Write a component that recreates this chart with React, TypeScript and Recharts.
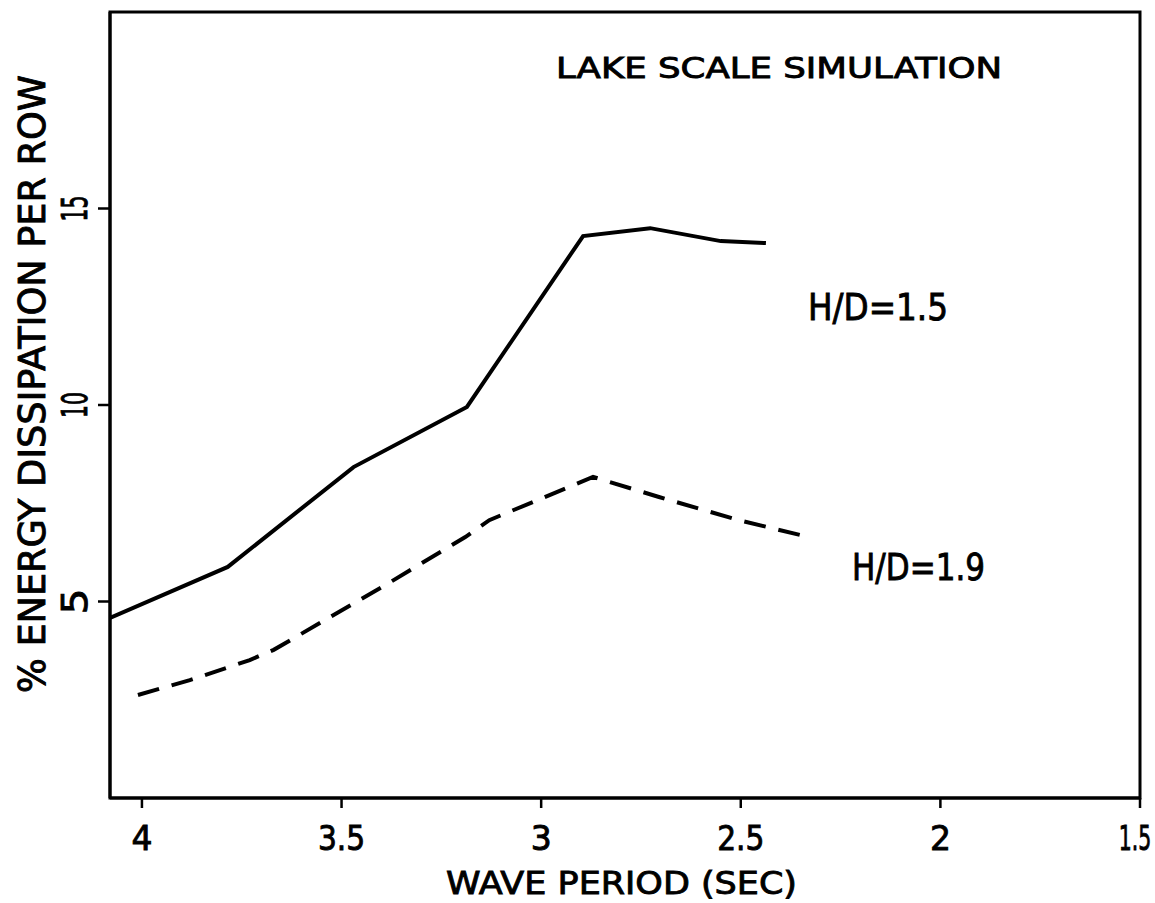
import React from 'react'
import { LineChart, Line, XAxis, YAxis, ReferenceArea, Customized } from 'recharts'

// H/D = 1.5 (solid)
const solidPeriod = [4.08, 3.785, 3.47, 3.186, 2.895, 2.727, 2.55, 2.437]
const solidEnergy = [4.58, 5.88, 8.42, 9.95, 14.3, 14.5, 14.17, 14.12]

// H/D = 1.9 (dashed)
const dashedPeriod = [4.01, 3.88, 3.73, 3.67, 3.39, 3.19, 3.13, 2.87, 2.705, 2.505, 2.35]
const dashedEnergy = [2.62, 3.0, 3.51, 3.77, 5.42, 6.64, 7.07, 8.17, 7.66, 7.07, 6.69]

const xTicks = [4, 3.5, 3, 2.5, 2, 1.5]
const yTicks = [5, 10, 15]

const solidData = solidPeriod.map((x, i) => ({ x, y: solidEnergy[i] }))
const dashedData = dashedPeriod.map((x, i) => ({ x, y: dashedEnergy[i] }))

const FONT = '"DejaVu Sans", sans-serif'
// thicken glyphs a little, the original lettering is heavy
const ink = { fill: '#000', stroke: '#000', strokeWidth: 0.9 }

function XTick(props: any) {
  const { x, y, payload } = props
  const label = String(payload.value)
  // squeeze the decimal labels sideways, the original digits are narrow
  const sx = label === '1.5' ? 0.62 : label.length > 1 ? 0.9 : 1
  const cx = label === '1.5' ? x - 5 : x
  return (
    <g transform={`translate(${cx}, ${y + 40}) scale(${sx}, 1)`}>
      <text x={0} y={0} textAnchor="middle" fontSize={33} fontFamily={FONT} {...ink}>
        {label}
      </text>
    </g>
  )
}

function YTick(props: any) {
  const { x, y, payload } = props
  const bx = x - 9
  return (
    <text
      x={bx}
      y={y}
      textAnchor="middle"
      fontSize={36}
      fontFamily={FONT}
      {...ink}
      textLength={26}
      lengthAdjust="spacingAndGlyphs"
      transform={`rotate(-90, ${bx}, ${y})`}
    >
      {payload.value}
    </text>
  )
}

function Annotations() {
  const common = { fontFamily: FONT, ...ink, lengthAdjust: 'spacingAndGlyphs' as const }
  return (
    <g>
      <text x={556} y={78} fontSize={29} textLength={446} {...common}>LAKE SCALE SIMULATION</text>
      <text x={808} y={320} fontSize={37} textLength={140} {...common}>H/D=1.5</text>
      <text x={852} y={580} fontSize={37} textLength={133} {...common}>H/D=1.9</text>
      <text x={446} y={894} fontSize={32} textLength={351} {...common}>WAVE PERIOD (SEC)</text>
      <text x={45} y={693} fontSize={38} textLength={618} transform="rotate(-90, 45, 693)" {...common}>
        % ENERGY DISSIPATION PER ROW
      </text>
    </g>
  )
}

export default function App() {
  return (
    <div style={{ position: 'absolute', left: 0, top: 0, background: '#fff' }}>
      <LineChart width={1155} height={903} margin={{ top: 12, right: 15, left: 0, bottom: 0 }}>
        <XAxis
          type="number"
          dataKey="x"
          domain={[1.5, 4.08]}
          reversed
          allowDataOverflow
          ticks={xTicks}
          height={105}
          tickSize={10}
          stroke="#000"
          strokeWidth={3}
          tick={<XTick />}
          tickLine={{ stroke: '#000', strokeWidth: 2.5 }}
        />
        <YAxis
          type="number"
          dataKey="y"
          domain={[0, 20]}
          allowDataOverflow
          ticks={yTicks}
          width={110}
          tickSize={12}
          stroke="#000"
          strokeWidth={3}
          tick={<YTick />}
          tickLine={{ stroke: '#000', strokeWidth: 2.5 }}
        />
        <ReferenceArea x1={4.08} x2={1.5} y1={0} y2={20} fill="none" stroke="#000" strokeWidth={3} ifOverflow="visible" />
        <Line
          data={solidData}
          dataKey="y"
          type="linear"
          stroke="#000"
          strokeWidth={4}
          dot={false}
          isAnimationActive={false}
        />
        <Line
          data={dashedData}
          dataKey="y"
          type="linear"
          stroke="#000"
          strokeWidth={4}
          strokeDasharray="22 13"
          dot={false}
          isAnimationActive={false}
        />
        <Customized component={Annotations} />
      </LineChart>
    </div>
  )
}
